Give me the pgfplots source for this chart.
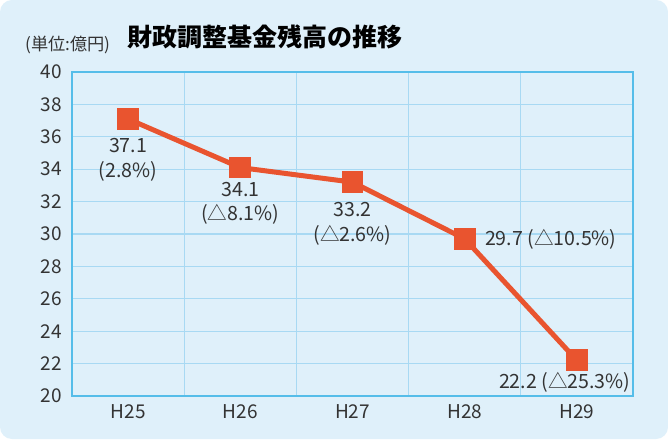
\documentclass[border=0pt]{standalone}
\usepackage{pgfplots}
\pgfplotsset{compat=1.18}
\usepackage{fontspec}
\setmainfont{Noto Sans CJK JP}
\definecolor{bg}{HTML}{DFF0FA}
\definecolor{gridc}{HTML}{A8D9F3}
\definecolor{framec}{HTML}{55BDE9}
\definecolor{linec}{HTML}{E9542F}
\definecolor{txt}{HTML}{333333}
\begin{document}
\begin{tikzpicture}[x=1pt,y=1pt]
\fill[white] (0,0) rectangle (334,219.5);
\fill[bg, rounded corners=6pt] (0,0) rectangle (334,219.5);
\node[font=\bfseries\fontsize{12.5}{15}\selectfont, text=black] at (132.5,201) {財政調整基金残高の推移};
\node[font=\fontsize{8.6}{10}\selectfont, text=txt] at (34,197) {(単位:億円)};
\begin{axis}[
  at={(36pt,21.5pt)}, anchor=south west,
  scale only axis, width=280.5pt, height=162pt,
  xmin=-0.5, xmax=4.5, ymin=20, ymax=40,
  ytick={20,22,...,40},
  xtick={0,1,2,3,4},
  xticklabels={H25,H26,H27,H28,H29},
  minor xtick={0.5,1.5,2.5,3.5},
  ymajorgrids, xminorgrids,
  major grid style={gridc, line width=0.6pt},
  minor grid style={gridc, line width=0.6pt},
  axis line style={framec, line width=0.9pt},
  major tick length=0pt, minor tick length=0pt,
  tick label style={font=\fontsize{9.5}{10}\selectfont, text=txt},
  /pgf/number format/assume math mode=true,
  yticklabel style={xshift=-1.5pt},
  xticklabel style={yshift=-1pt},
  clip=false,
]
\addplot[linec, line width=2.5pt, mark=square*, mark size=4.2pt, mark options={fill=linec, draw=none}] coordinates {
  (0,37.1) (1,34.1) (2,33.2) (3,29.7) (4,22.2)
};
\begin{scope}[every node/.style={font=\fontsize{9.8}{12.2}\selectfont, text=txt, align=center}]
\node[yshift=-20.5pt] at (axis cs:0,37.1) {37.1\\(2.8\%)};
\node[yshift=-17.75pt] at (axis cs:1,34.1) {34.1\\(△8.1\%)};
\node[yshift=-20.75pt] at (axis cs:2,33.2) {33.2\\(△2.6\%)};
\node[anchor=west, inner sep=0pt, xshift=10pt] at (axis cs:3,29.7) {29.7 (△10.5\%)};
\node[anchor=east, inner sep=0pt, xshift=27pt, yshift=-11pt] at (axis cs:4,22.2) {22.2 (△25.3\%)};
\end{scope}
\end{axis}
\end{tikzpicture}
\end{document}
